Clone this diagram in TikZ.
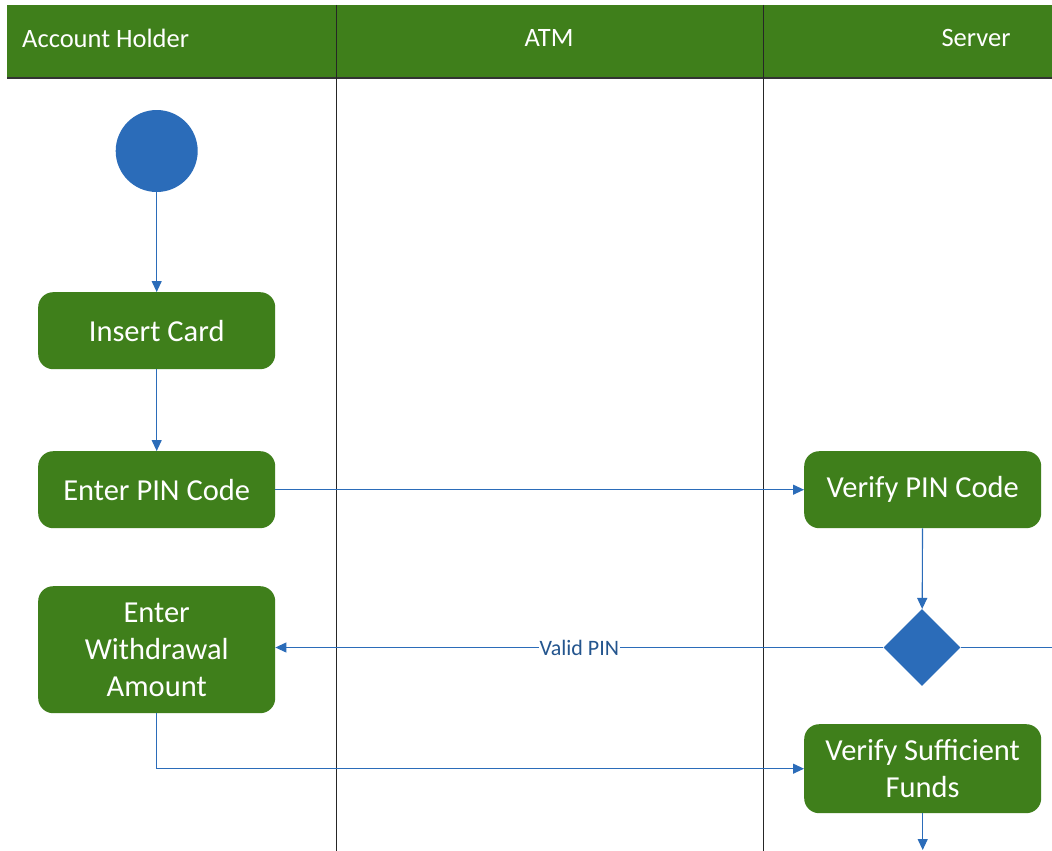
\documentclass[tikz,border=0pt]{standalone}
\usepackage{fontspec}
\setmainfont{Carlito}
\usetikzlibrary{arrows.meta,shapes.geometric}
\definecolor{lanegreen}{HTML}{3F7F1B}
\definecolor{flowblue}{HTML}{2B6CB9}
\definecolor{labelblue}{HTML}{24558E}
\tikzset{
  x=1pt,y=-1pt,
  action/.style={draw=none,fill=lanegreen,rounded corners=15pt,text=white,
    minimum width=237pt,align=center,font=\fontsize{30.5}{37}\selectfont,anchor=north west},
  flow/.style={draw=flowblue,line width=1.1pt,-{Triangle[length=11pt,width=10pt]}},
  lanehead/.style={text=white,font=\fontsize{26.5}{30}\selectfont},
  divider/.style={draw=black!85,line width=0.9pt}
}
\begin{document}
\begin{tikzpicture}
\useasboundingbox[fill=white] (0,0) rectangle (1052,851);
% swimlane header band and lane separators
\fill[lanegreen] (7,5) rectangle (1052,78);
\draw[black!80,line width=1.2pt] (7,78) -- (1052,78);
\draw[divider] (336,5) -- (336,851);
\draw[divider] (763,5) -- (763,851);
\node[lanehead,anchor=west,inner sep=0] (hAH) at (22,38) {Account Holder};
\node[lanehead] (hATM) at (549,38) {ATM};
\node[lanehead] (hSrv) at (976,38) {Server};
% actions
\node[action,minimum height=77pt] (card) at (38,292) {Insert Card};
\node[action,minimum height=77pt] (pin) at (38,451) {Enter PIN Code};
\node[action,minimum height=77pt] (vpin) at (804,451) {Verify PIN Code};
\node[action,minimum height=127pt] (amt) at (38,586) {Enter\\Withdrawal\\Amount};
\node[action,minimum height=89pt] (funds) at (804,724) {Verify Sufficient\\Funds};
% start node, centred over the first action
\node[circle,fill=flowblue,minimum size=82pt,inner sep=0] (start) at (card.north |- 0,151) {};
% decision
\node[diamond,fill=flowblue,minimum width=77pt,minimum height=77pt,inner sep=0] (dec) at (922,647.5) {};
% connectors
\coordinate (exitR) at (1052,647.5);
\coordinate (down) at (funds.south |- 0,850);
\draw[flow] (start) -- (card);
\draw[flow] (card) -- (pin);
\draw[flow] (pin) -- (vpin);
\draw[flow] (vpin) -- (dec);
\draw[flow] (dec) -- node[fill=white,inner sep=1pt,text=labelblue,font=\fontsize{22}{24}\selectfont,pos=0.5] (lbl) {Valid PIN} (amt.east |- dec);
\draw[draw=flowblue,line width=1.1pt] (dec.east) -- (exitR);
\draw[flow] (amt.south) |- (funds.west);
\draw[flow] (funds.south) -- (down);
\end{tikzpicture}
\end{document}
